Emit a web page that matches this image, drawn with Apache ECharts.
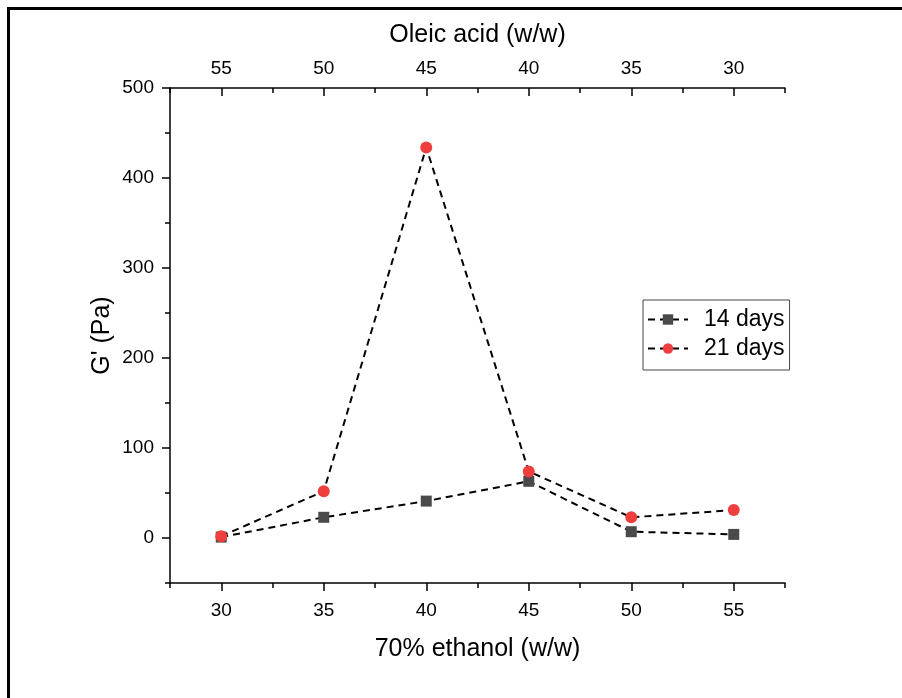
<!DOCTYPE html>
<html>
<head>
<meta charset="utf-8">
<script src="https://cdn.jsdelivr.net/npm/echarts@6/dist/echarts.min.js"></script>
<style>
  html, body { margin: 0; padding: 0; background: #fff; }
  #chart { width: 902px; height: 698px; }
</style>
</head>
<body>
<div id="chart"></div>
<script>
// Ethanol content (bottom axis) and the matching oleic acid content (top axis)
const ethanol = [30, 35, 40, 45, 50, 55];
const oleicTicks = [55, 50, 45, 40, 35, 30];

// Storage modulus G' (Pa)
const g14days = [1, 23, 41, 63, 7, 4];
const g21days = [2, 52, 434, 74, 23, 31];

const FONT = 'Liberation Sans, Arial, sans-serif';
const AXIS_COLOR = '#000';

// Main plot area
const L = 170, R = 117, T = 88, B = 115;
const W = 902 - L - R, H = 698 - T - B;
const X_MIN = 27.5, X_MAX = 57.5, Y_MIN = -50, Y_MAX = 500;
// Overlay area spanning the major-tick range (30..55, 0..500)
const xOff = W * (30 - X_MIN) / (X_MAX - X_MIN);
const xW = W * (55 - 30) / (X_MAX - X_MIN);
const yOff = H * (0 - Y_MIN) / (Y_MAX - Y_MIN);

const lineStyle = { color: '#000', width: 2, type: [7, 5] };
const hiddenLine = { show: false, onZero: false };

const chart = echarts.init(document.getElementById('chart'), null, { renderer: 'canvas' });

chart.setOption({
  backgroundColor: '#fff',
  animation: false,
  textStyle: { fontFamily: FONT },
  grid: [
    { left: L, right: R, top: T, bottom: B },
    { left: L + xOff, width: xW, top: T, bottom: B + yOff }
  ],
  xAxis: [
    { // bottom: line + minor ticks
      type: 'value', gridIndex: 0, position: 'bottom',
      min: X_MIN, max: X_MAX, interval: 2.5,
      axisLine: { show: true, onZero: false, lineStyle: { color: AXIS_COLOR, width: 1.5 } },
      axisTick: { show: true, inside: false, length: 5, lineStyle: { color: AXIS_COLOR, width: 1.5 } },
      axisLabel: { show: false },
      splitLine: { show: false },
      name: '70% ethanol (w/w)', nameLocation: 'middle', nameGap: 54,
      nameTextStyle: { fontSize: 25, color: '#000', fontFamily: FONT }
    },
    { // top: line + minor ticks
      type: 'value', gridIndex: 0, position: 'top',
      min: X_MIN, max: X_MAX, interval: 2.5,
      axisLine: { show: true, onZero: false, lineStyle: { color: AXIS_COLOR, width: 1.5 } },
      axisTick: { show: true, inside: true, length: 5, lineStyle: { color: AXIS_COLOR, width: 1.5 } },
      axisLabel: { show: false },
      splitLine: { show: false },
      name: 'Oleic acid (w/w)', nameLocation: 'middle', nameGap: 40,
      nameTextStyle: { fontSize: 25, color: '#000', fontFamily: FONT }
    },
    { // bottom major ticks and labels
      type: 'value', gridIndex: 1, position: 'bottom', offset: yOff,
      min: ethanol[0], max: ethanol[ethanol.length - 1], interval: 5,
      axisLine: hiddenLine,
      axisTick: { show: true, inside: false, length: 8, lineStyle: { color: AXIS_COLOR, width: 1.5 } },
      axisLabel: { show: true, margin: 18, fontSize: 19, color: '#000', fontFamily: FONT },
      splitLine: { show: false }
    },
    { // top major ticks and oleic acid labels
      type: 'value', gridIndex: 1, position: 'top',
      min: ethanol[0], max: ethanol[ethanol.length - 1], interval: 5,
      axisLine: hiddenLine,
      axisTick: { show: true, inside: true, length: 8, lineStyle: { color: AXIS_COLOR, width: 1.5 } },
      axisLabel: {
        show: true, margin: 10, fontSize: 19, color: '#000', fontFamily: FONT,
        formatter: v => String(oleicTicks[ethanol.indexOf(v)])
      },
      splitLine: { show: false }
    }
  ],
  yAxis: [
    { // left: line + minor ticks
      type: 'value', gridIndex: 0, position: 'left',
      min: Y_MIN, max: Y_MAX, interval: 50,
      axisLine: { show: true, onZero: false, lineStyle: { color: AXIS_COLOR, width: 1.5 } },
      axisTick: { show: true, inside: false, length: 5, lineStyle: { color: AXIS_COLOR, width: 1.5 } },
      axisLabel: { show: false },
      splitLine: { show: false },
      name: "G' (Pa)", nameLocation: 'middle', nameGap: 55,
      nameTextStyle: { fontSize: 25, color: '#000', fontFamily: FONT }
    },
    { // left major ticks and labels
      type: 'value', gridIndex: 1, position: 'left', offset: xOff,
      min: 0, max: 500, interval: 100,
      axisLine: hiddenLine,
      axisTick: { show: true, inside: false, length: 8, lineStyle: { color: AXIS_COLOR, width: 1.5 } },
      axisLabel: { show: true, margin: 16, fontSize: 19, color: '#000', fontFamily: FONT },
      splitLine: { show: false }
    }
  ],
  legend: {
    left: 643, top: 300,
    orient: 'vertical', align: 'left',
    padding: [8, 5, 10, 4],
    itemWidth: 40, itemHeight: 13, itemGap: 6,
    borderColor: '#444', borderWidth: 1,
    textStyle: { fontSize: 23, color: '#000', fontFamily: FONT, padding: [0, 0, 0, 11] },
    data: ['14 days', '21 days']
  },
  series: [
    {
      name: '14 days', type: 'line', xAxisIndex: 0, yAxisIndex: 0,
      data: ethanol.map((x, i) => [x, g14days[i]]),
      symbol: 'rect', symbolSize: 11,
      itemStyle: { color: '#4a4a4a' },
      lineStyle: lineStyle,
      z: 2
    },
    {
      name: '21 days', type: 'line', xAxisIndex: 0, yAxisIndex: 0,
      data: ethanol.map((x, i) => [x, g21days[i]]),
      symbol: 'circle', symbolSize: 12,
      itemStyle: { color: '#ef3e3e' },
      lineStyle: lineStyle,
      z: 3
    }
  ],
  graphic: [
    { // figure frame (top and left edges)
      type: 'polyline',
      shape: { points: [[8.5, 698], [8.5, 8.5], [902, 8.5]] },
      style: { stroke: '#000', lineWidth: 3, fill: null },
      silent: true
    }
  ]
});
</script>
</body>
</html>
